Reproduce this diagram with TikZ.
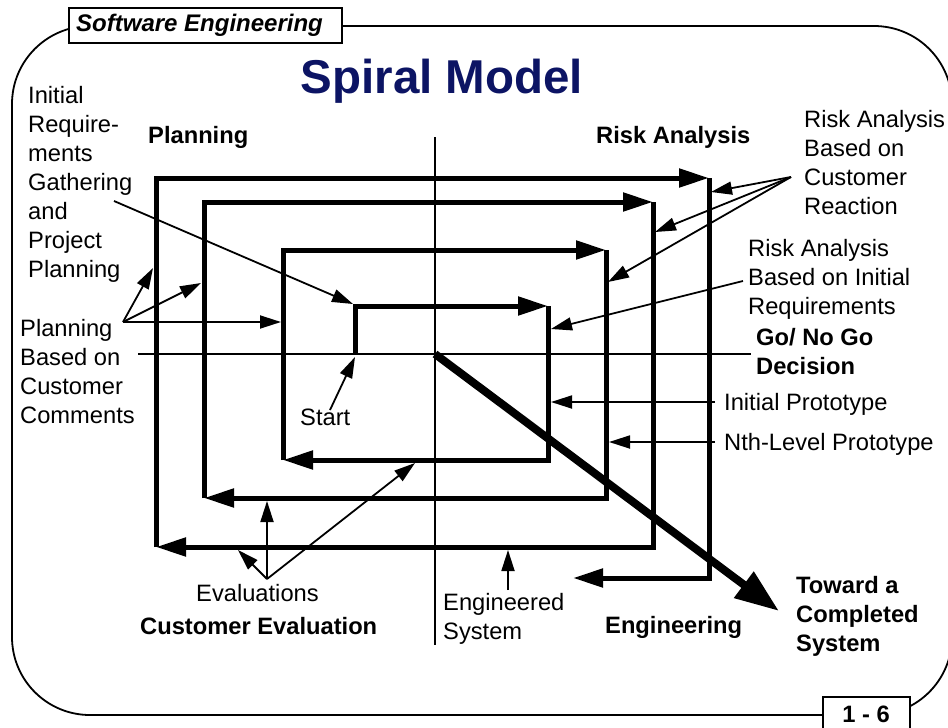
\documentclass[tikz,border=0pt]{standalone}
\usepackage{fontspec}
\setmainfont{Liberation Sans}
\usepackage{xcolor}
\usetikzlibrary{arrows.meta}
\definecolor{titleblue}{RGB}{12,20,100}

\begin{document}
\begin{tikzpicture}[x=1pt, y=-1pt, line join=miter,
    >={Triangle[length=21pt, width=13pt]},
    frame/.style={draw, line width=1.8pt},
    axis/.style={draw, line width=1.8pt},
    note/.style={->, line width=1.8pt},
    spiral/.style={-{Triangle[length=30pt, width=18pt]}, line width=5pt},
    toward/.style={-{Triangle[length=44pt, width=31pt]}, line width=8pt},
    vh/.style={to path={|- (\tikztotarget)}},
    lbl/.style={inner sep=0pt, align=left, font=\fontsize{23.7}{29}\selectfont},
    blbl/.style={inner sep=0pt, align=left, font=\fontsize{23.7}{29}\selectfont\bfseries}]

  \useasboundingbox (0,0) rectangle (948,728);

  \draw[frame, rounded corners=78pt] (12,26) rectangle (952,715);
  \draw[frame, fill=white] (69,8) rectangle (342,43);
  \draw[frame, fill=white] (823,697) rectangle (910,745);

  \node[anchor=base west, inner sep=0pt, font=\fontsize{24}{28}\selectfont\bfseries\itshape] (course) at (76,31) {Software Engineering};
  \node[anchor=base, inner sep=0pt, font=\fontsize{23.7}{28}\selectfont\bfseries] (pageno) at (866,722) {1 - 6};
  \node[anchor=base, inner sep=0pt, text=titleblue, font=\fontsize{47.5}{56}\selectfont\bfseries] (title) at (442,93) {Spiral Model};

  \node[blbl, anchor=base west] (planning) at (148,143) {Planning};
  \node[blbl, anchor=base west] (risk) at (596,143) {Risk Analysis};
  \node[blbl, anchor=base west] (custeval) at (140,634) {Customer Evaluation};
  \node[blbl, anchor=base west] (engineering) at (605,633) {Engineering};
  \node[blbl, anchor=north west] (gonogo) at (756,328) {Go/ No Go\\Decision};
  \node[blbl, anchor=north west] (toward) at (796,576) {Toward a\\Completed\\System};

  \node[lbl, anchor=north west] (initreq) at (28,86) {Initial\\Require-\\ments\\Gathering\\and\\Project\\Planning};
  \node[lbl, anchor=north west] (plancust) at (20,319) {Planning\\Based on\\Customer\\Comments};
  \node[lbl, anchor=north west] (riskcust) at (804,110) {Risk Analysis\\Based on\\Customer\\Reaction};
  \node[lbl, anchor=north west] (riskinit) at (748,239) {Risk Analysis\\Based on Initial\\Requirements};
  \node[lbl, anchor=north west] (engsys) at (443,593) {Engineered\\System};
  \node[lbl, anchor=base west] (initproto) at (724,410) {Initial Prototype};
  \node[lbl, anchor=base west] (nthproto) at (724,450) {Nth-Level Prototype};
  \node[lbl, anchor=base west] (start) at (300,425) {Start};
  \node[lbl, anchor=base west] (evals) at (196,601) {Evaluations};

  \coordinate (ax-l) at (138,354);
  \coordinate (ax-r) at (751,354);
  \coordinate (ax-t) at (435,137);
  \coordinate (ax-b) at (435,645);
  \coordinate (origin) at (435,354);
  \coordinate (done) at (779,611);

  \coordinate (sp0) at (355,354);
  \coordinate (sp1) at (548,306);
  \coordinate (sp2) at (283,460);
  \coordinate (sp3) at (606,250);
  \coordinate (sp4) at (204,498);
  \coordinate (sp5) at (653,202);
  \coordinate (sp6) at (156,547);
  \coordinate (sp7) at (709,178);
  \coordinate (sp8) at (573,578);

  \coordinate (ir-from) at (114,201);  \coordinate (ir-to) at (353,304);
  \coordinate (pc-from) at (123,322);  \coordinate (pc-to1) at (153,268);
  \coordinate (pc-to2) at (201,283);   \coordinate (pc-to3) at (281,322);
  \coordinate (st-from) at (330,410);  \coordinate (st-to) at (355,357);
  \coordinate (ev-from) at (267,579);  \coordinate (ev-to1) at (267,501);
  \coordinate (ev-to2) at (238,550);   \coordinate (ev-to3) at (415,463);
  \coordinate (es-from) at (508,590);  \coordinate (es-to) at (508,550);
  \coordinate (cr-from) at (791,177);  \coordinate (cr-to1) at (711,192);
  \coordinate (cr-to2) at (655,232);   \coordinate (cr-to3) at (608,282);
  \coordinate (ri-from) at (743,281);  \coordinate (ri-to) at (551,329);
  \coordinate (ip-from) at (715,402);  \coordinate (ip-to) at (551,402);
  \coordinate (np-from) at (715,442);  \coordinate (np-to) at (609,442);

  \draw[axis] (ax-l) -- (ax-r);
  \draw[axis] (ax-t) -- (ax-b);

  \path[spiral]
  (sp0) edge[vh] (sp1)
  (sp1) edge[vh] (sp2)
  (sp2) edge[vh] (sp3)
  (sp3) edge[vh] (sp4)
  (sp4) edge[vh] (sp5)
  (sp5) edge[vh] (sp6)
  (sp6) edge[vh] (sp7)
  (sp7) edge[vh] (sp8);

  \path[note]
  (ir-from) edge (ir-to)
  (pc-from) edge (pc-to1)
  (pc-from) edge (pc-to2)
  (pc-from) edge (pc-to3)
  (st-from) edge (st-to)
  (ev-from) edge (ev-to1)
  (ev-from) edge (ev-to2)
  (ev-from) edge (ev-to3)
  (es-from) edge (es-to)
  (cr-from) edge (cr-to1)
  (cr-from) edge (cr-to2)
  (cr-from) edge (cr-to3)
  (ri-from) edge (ri-to)
  (ip-from) edge (ip-to)
  (np-from) edge (np-to);

  \draw[toward] (origin) -- (done);
\end{tikzpicture}
\end{document}
